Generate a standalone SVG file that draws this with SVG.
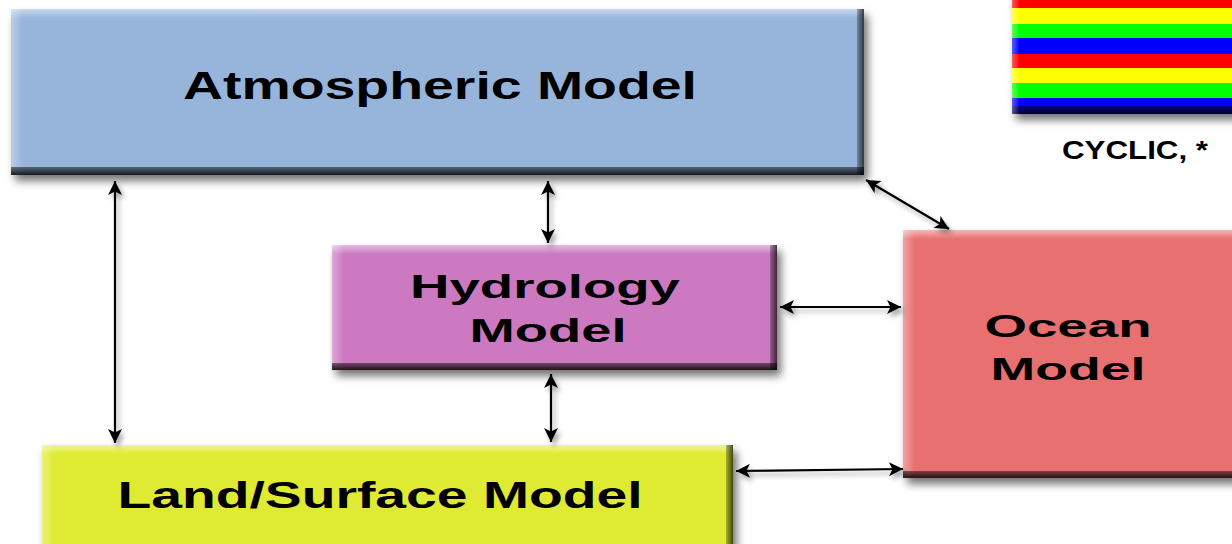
<svg xmlns="http://www.w3.org/2000/svg" width="1232" height="544" viewBox="0 0 1232 544">
<defs>
<style>
.lbl{font-family:"Liberation Sans",Arial,sans-serif;font-weight:bold;fill:#000;text-anchor:middle}
.con{stroke:#000;stroke-width:2.2;fill:none;marker-start:url(#ah);marker-end:url(#ah)}
</style>
<filter id="sh" x="-10%" y="-10%" width="130%" height="140%">
<feGaussianBlur in="SourceAlpha" stdDeviation="4"/>
<feOffset dx="4" dy="6" result="b"/>
<feComponentTransfer><feFuncA type="linear" slope="0.55"/></feComponentTransfer>
<feMerge><feMergeNode/><feMergeNode in="SourceGraphic"/></feMerge>
</filter>
<filter id="ash" x="-20%" y="-20%" width="140%" height="140%">
<feGaussianBlur in="SourceAlpha" stdDeviation="2.5"/>
<feOffset dx="3" dy="4"/>
<feComponentTransfer><feFuncA type="linear" slope="0.35"/></feComponentTransfer>
<feMerge><feMergeNode/><feMergeNode in="SourceGraphic"/></feMerge>
</filter>
<marker id="ah" viewBox="0 0 10 10" refX="10" refY="5" markerUnits="userSpaceOnUse" markerWidth="16" markerHeight="14" orient="auto-start-reverse">
<path d="M0,0 L10,5 L0,10 L2.5,5 z" fill="#000"/>
</marker>
<linearGradient id="tg" x1="0" y1="0" x2="0" y2="1">
<stop offset="0" stop-color="#fff" stop-opacity="0.5"/>
<stop offset="1" stop-color="#fff" stop-opacity="0"/>
</linearGradient>
<linearGradient id="lg" x1="0" y1="0" x2="1" y2="0">
<stop offset="0" stop-color="#fff" stop-opacity="0.35"/>
<stop offset="1" stop-color="#fff" stop-opacity="0"/>
</linearGradient>
<linearGradient id="bg" x1="0" y1="0" x2="0" y2="1">
<stop offset="0" stop-color="#000" stop-opacity="0.45"/>
<stop offset="1" stop-color="#000" stop-opacity="0.85"/>
</linearGradient>
<linearGradient id="rg" x1="0" y1="0" x2="1" y2="0">
<stop offset="0" stop-color="#000" stop-opacity="0.25"/>
<stop offset="1" stop-color="#000" stop-opacity="0.7"/>
</linearGradient>
</defs>
<rect width="1232" height="544" fill="#fff"/>

<g id="colorbar" filter="url(#sh)">
<rect x="1012" y="-7" width="230" height="15" fill="#ff0000"/>
<rect x="1012" y="8" width="230" height="16" fill="#ffff00"/>
<rect x="1012" y="24" width="230" height="14" fill="#00ff00"/>
<rect x="1012" y="38" width="230" height="16" fill="#0000ff"/>
<rect x="1012" y="54" width="230" height="14" fill="#ff0000"/>
<rect x="1012" y="68" width="230" height="15" fill="#ffff00"/>
<rect x="1012" y="83" width="230" height="15" fill="#00ff00"/>
<rect x="1012" y="98" width="230" height="16" fill="#0000ff"/>
<rect x="1012" y="106" width="230" height="8" fill="url(#bg)"/>
<rect x="1012" y="-7" width="8" height="121" fill="url(#lg)"/>
</g>
<text class="lbl" x="1135" y="159" font-size="25" textLength="146" lengthAdjust="spacingAndGlyphs">CYCLIC, *</text>

<g id="atmospheric" filter="url(#sh)">
<rect x="11" y="9" width="853" height="166" fill="#97b4da"/>
<rect x="11" y="9" width="853" height="9" fill="url(#tg)"/>
<rect x="11" y="9" width="12" height="166" fill="url(#lg)"/>
<rect x="11" y="167" width="853" height="8" fill="url(#bg)"/>
<rect x="857" y="9" width="7" height="166" fill="url(#rg)"/>
</g>
<text class="lbl" x="440" y="99" font-size="38" textLength="514" lengthAdjust="spacingAndGlyphs">Atmospheric Model</text>

<g id="hydrology" filter="url(#sh)">
<rect x="332" y="245" width="445" height="125" fill="#cc79c1"/>
<rect x="332" y="245" width="445" height="9" fill="url(#tg)"/>
<rect x="332" y="245" width="12" height="125" fill="url(#lg)"/>
<rect x="332" y="363" width="445" height="7" fill="url(#bg)"/>
<rect x="770" y="245" width="7" height="125" fill="url(#rg)"/>
</g>
<text class="lbl" x="545" y="298" font-size="33" textLength="270" lengthAdjust="spacingAndGlyphs">Hydrology</text>
<text class="lbl" x="548" y="342" font-size="33" textLength="157" lengthAdjust="spacingAndGlyphs">Model</text>

<g id="ocean" filter="url(#sh)">
<rect x="903" y="230" width="340" height="248" fill="#e87070"/>
<rect x="903" y="230" width="340" height="9" fill="url(#tg)"/>
<rect x="903" y="230" width="12" height="248" fill="url(#lg)"/>
<rect x="903" y="471" width="340" height="7" fill="url(#bg)"/>
</g>
<text class="lbl" x="1068" y="337" font-size="32" textLength="167" lengthAdjust="spacingAndGlyphs">Ocean</text>
<text class="lbl" x="1068" y="380" font-size="32" textLength="155" lengthAdjust="spacingAndGlyphs">Model</text>

<g id="land" filter="url(#sh)">
<rect x="42" y="445" width="691" height="110" fill="#dfeb33"/>
<rect x="42" y="445" width="691" height="9" fill="url(#tg)"/>
<rect x="42" y="445" width="12" height="110" fill="url(#lg)"/>
<rect x="726" y="445" width="7" height="110" fill="url(#rg)"/>
</g>
<text class="lbl" x="380" y="508" font-size="37" textLength="525" lengthAdjust="spacingAndGlyphs">Land/Surface Model</text>

<g id="connectors" filter="url(#ash)">
<line class="con" x1="115" y1="181" x2="115" y2="443"/>
<line class="con" x1="548" y1="181" x2="548" y2="243"/>
<line class="con" x1="551" y1="374" x2="551" y2="442"/>
<line class="con" x1="780" y1="307" x2="901" y2="307"/>
<line class="con" x1="736" y1="471" x2="903" y2="469"/>
<line class="con" x1="866" y1="180" x2="949" y2="229"/>
</g>
</svg>
